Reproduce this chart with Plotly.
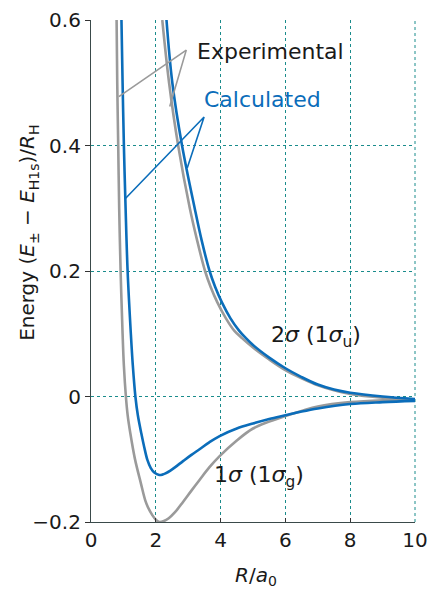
import plotly.graph_objects as go

# Internuclear separation R/a0 and energies (E - E_H1s)/R_H for H2+
exp_1s_R = [0.79, 0.81, 0.84, 0.87, 0.914, 0.975, 1.015, 1.077, 1.132, 1.215, 1.354, 1.538, 1.677, 1.754, 1.892, 2.015, 2.108,
            2.25, 2.40, 2.60, 2.84, 3.10, 3.35, 3.65, 3.97, 4.5, 5.0, 5.5, 6.0, 6.5, 7.0, 8.0, 9.0, 10.0]
exp_1s_E = [0.6, 0.5, 0.4, 0.3, 0.2, 0.1, 0.049, 0.0, -0.030, -0.059, -0.099, -0.138, -0.166, -0.176, -0.189, -0.197, -0.200,
            -0.1985, -0.194, -0.184, -0.168, -0.150, -0.133, -0.113, -0.095, -0.070, -0.051, -0.040, -0.031, -0.023, -0.016, -0.009, -0.006, -0.005]

calc_1s_R = [0.94, 0.975, 1.015, 1.068, 1.13, 1.23, 1.29, 1.37, 1.446, 1.554, 1.64, 1.74, 1.846, 1.954, 2.108,
             2.20, 2.30, 2.45, 2.60, 2.84, 3.10, 3.35, 3.65, 3.97, 4.5, 5.0, 5.5, 6.0, 6.5, 7.0, 8.0, 9.0, 10.0]
calc_1s_E = [0.6, 0.5, 0.4, 0.3, 0.2, 0.1, 0.05, 0.0, -0.030, -0.059, -0.080, -0.101, -0.114, -0.121, -0.125,
             -0.1245, -0.1225, -0.118, -0.1125, -0.103, -0.093, -0.084, -0.073, -0.063, -0.051, -0.043, -0.036, -0.030, -0.024, -0.019, -0.012, -0.009, -0.007]

exp_2s_R = [2.20, 2.41, 2.69, 3.05, 3.27, 3.52, 3.69, 3.90, 4.16, 4.42, 4.66, 5.0, 5.5, 6.0, 6.5, 7.0, 7.5, 8.0, 9.0, 10.0]
exp_2s_E = [0.6, 0.5, 0.4, 0.3, 0.25, 0.2, 0.175, 0.15, 0.125, 0.105, 0.093, 0.078, 0.059, 0.042, 0.029, 0.018, 0.010, 0.004, -0.002, -0.005]

calc_2s_R = [2.33, 2.51, 2.81, 3.20, 3.41, 3.66, 3.83, 4.04, 4.30, 4.57, 4.78, 5.0, 5.5, 6.0, 6.5, 7.0, 7.5, 8.0, 9.0, 10.0]
calc_2s_E = [0.6, 0.5, 0.4, 0.3, 0.25, 0.2, 0.175, 0.15, 0.125, 0.105, 0.093, 0.082, 0.062, 0.045, 0.031, 0.019, 0.011, 0.006, 0.000, -0.004]

# Pointer lines for the two labels
exp_ptr_R = [0.86, 2.94, 2.43]
exp_ptr_E = [0.478, 0.552, 0.462]
calc_ptr_R = [1.07, 3.49, 2.97]
calc_ptr_E = [0.316, 0.4455, 0.364]

x_ticks = [0, 2, 4, 6, 8, 10]
y_ticks = [-0.2, 0, 0.2, 0.4, 0.6]
y_tick_text = ["\u22120.2", "0", "0.2", "0.4", "0.6"]

GRAY = "#9a9a9a"
BLUE = "#0b6dba"
TEAL = "#1a8c8c"
FONT = "DejaVu Sans"

fig = go.Figure()

for R, E, c in [(exp_1s_R, exp_1s_E, GRAY), (exp_2s_R, exp_2s_E, GRAY),
                (calc_1s_R, calc_1s_E, BLUE), (calc_2s_R, calc_2s_E, BLUE)]:
    fig.add_trace(go.Scatter(x=R, y=E, mode="lines",
                             line=dict(color=c, width=2.6, shape="spline", smoothing=1.0),
                             hoverinfo="skip", showlegend=False))

fig.add_trace(go.Scatter(x=exp_ptr_R, y=exp_ptr_E, mode="lines",
                         line=dict(color=GRAY, width=1.6), showlegend=False, hoverinfo="skip"))
fig.add_trace(go.Scatter(x=calc_ptr_R, y=calc_ptr_E, mode="lines",
                         line=dict(color=BLUE, width=1.6), showlegend=False, hoverinfo="skip"))

labels = [
    (3.20, 0.550, "Experimental", "#1a1a1a"),
    (3.42, 0.474, "Calculated", BLUE),
    (5.50, 0.095, "2<i>\u03c3</i> (1<i>\u03c3</i><sub>u</sub>)", "#1a1a1a"),
    (3.72, -0.128, "1<i>\u03c3</i> (1<i>\u03c3</i><sub>g</sub>)", "#1a1a1a"),
]
for x, y, t, c in labels:
    fig.add_annotation(x=x, y=y, text=t, showarrow=False, xanchor="left", yanchor="middle",
                       font=dict(family=FONT, size=22, color=c))

fig.add_annotation(xref="paper", yref="y", x=-0.194, y=0.261, textangle=-90,
                   text="Energy (<i>E</i><sub>\u00b1</sub> \u2212 <i>E</i><sub>H1s</sub>)/<i>R</i><sub>H</sub>",
                   showarrow=False, xanchor="center", yanchor="middle",
                   font=dict(family=FONT, size=20, color="#1a1a1a"))
fig.add_annotation(xref="x", yref="paper", x=5.1, y=-0.108,
                   text="<i>R</i>/<i>a</i><sub>0</sub>", showarrow=False,
                   xanchor="center", yanchor="middle",
                   font=dict(family=FONT, size=20, color="#1a1a1a"))

# dotted frame on the right edge, matching the grid
fig.add_shape(type="line", xref="paper", yref="paper", x0=1, x1=1, y0=0, y1=1,
              line=dict(color=TEAL, width=1, dash="dot"), layer="below")

fig.update_xaxes(range=[0, 10], tickvals=x_ticks, ticks="inside", ticklen=4, tickcolor="#333",
                 showline=True, linecolor="#3a4a4a", linewidth=1.2, automargin=False,
                 showgrid=True, gridcolor=TEAL, griddash="dot", gridwidth=1, zeroline=False,
                 tickfont=dict(family=FONT, size=20, color="#1a1a1a"))
fig.update_yaxes(range=[-0.2, 0.6], tickvals=y_ticks, ticktext=y_tick_text, ticks="outside",
                 ticklen=5, tickcolor="#333", automargin=False,
                 showline=True, linecolor="#3a4a4a", linewidth=1.2,
                 showgrid=True, gridcolor=TEAL, griddash="dot", gridwidth=1, zeroline=False,
                 tickfont=dict(family=FONT, size=20, color="#1a1a1a"))

fig.update_layout(width=428, height=593, margin=dict(l=91, r=13, t=20, b=71),
                  paper_bgcolor="white", plot_bgcolor="white")

fig.write_html("out.html")
